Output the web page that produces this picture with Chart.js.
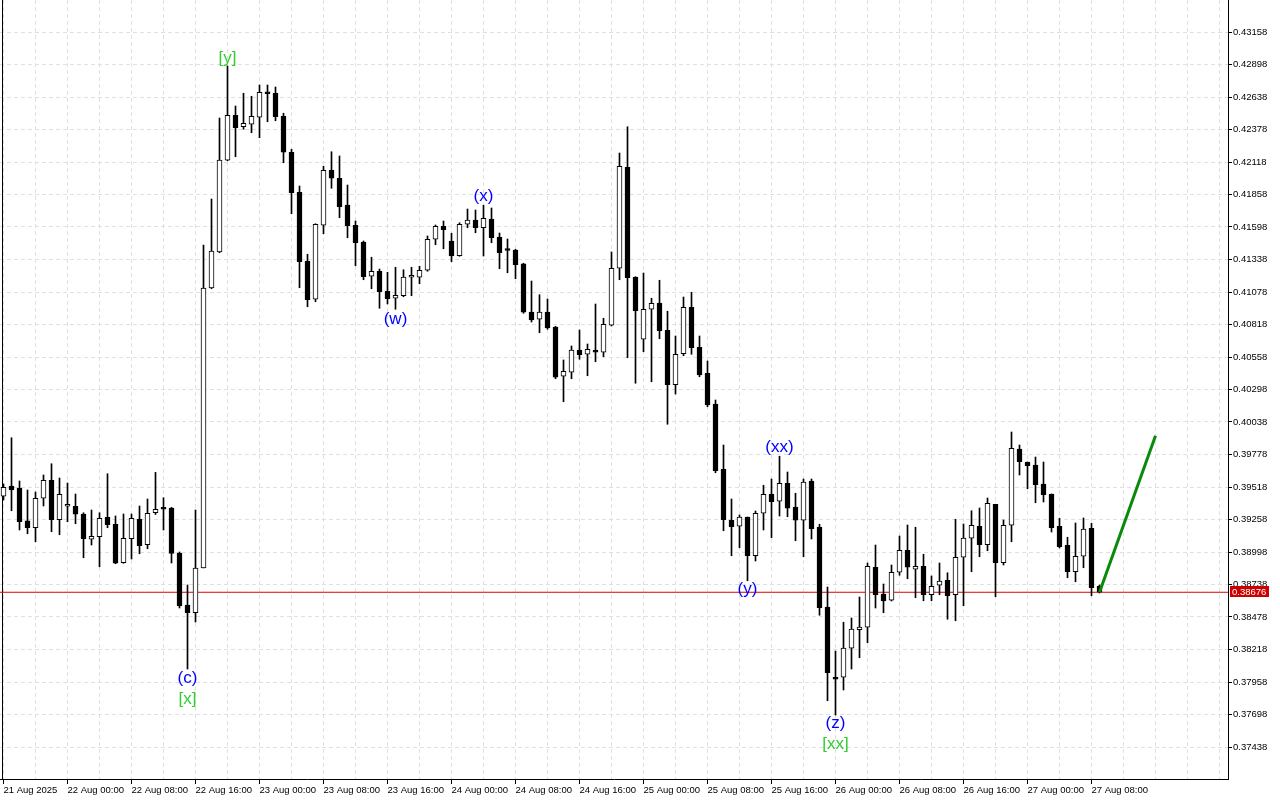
<!DOCTYPE html>
<html><head><meta charset="utf-8">
<script src="https://cdn.jsdelivr.net/npm/chart.js@4.4.1/dist/chart.umd.min.js"></script>
<style>html,body{margin:0;padding:0;background:#fff;overflow:hidden}#wrap{width:1280px;height:800px}</style>
</head><body><div id="wrap"><canvas id="c" width="1280" height="800"></canvas></div>
<script>
// H1 candles, 21 Aug 2025 16:00 .. 27 Aug 2025 09:00
const opens = [0.39444,0.39526,0.39510,0.39248,0.39192,0.39428,0.39572,0.39256,0.39364,0.39364,
0.39302,0.39100,0.39120,0.39276,0.39220,0.38912,0.39104,0.39262,0.39056,0.39312,
0.39342,0.39350,0.38990,0.38574,0.38512,0.38870,0.41110,0.41398,0.42132,0.42492,
0.42400,0.42420,0.42476,0.42676,0.42668,0.42484,0.42196,0.41876,0.41324,0.41020,
0.41612,0.42054,0.41988,0.41774,0.41612,0.41478,0.41204,0.41244,0.41084,0.41028,
0.41048,0.41196,0.41196,0.41252,0.41500,0.41604,0.41486,0.41368,0.41620,0.41654,
0.41592,0.41662,0.41518,0.41412,0.41414,0.41304,0.40918,0.40860,0.40918,0.40798,
0.40404,0.40436,0.40614,0.40580,0.40614,0.40596,0.40812,0.41268,0.42076,0.41198,
0.40700,0.40940,0.40990,0.40772,0.40336,0.40584,0.40956,0.40636,0.40428,0.40182,
0.39660,0.39252,0.39204,0.39278,0.38968,0.39308,0.39462,0.39404,0.39548,0.39358,
0.39252,0.39566,0.39198,0.38558,0.37982,0.37996,0.38228,0.38376,0.38396,0.38876,
0.38662,0.38612,0.38836,0.39012,0.38860,0.38884,0.38656,0.38732,0.38772,0.38656,
0.38956,0.39108,0.39204,0.39056,0.39380,0.38912,0.39212,0.39822,0.39718,0.39694,
0.39542,0.39462,0.39204,0.39052,0.38840,0.38964,0.39188,0.38726];
const highs = [0.39542,0.39912,0.39566,0.39494,0.39478,0.39614,0.39704,0.39590,0.39550,0.39462,
0.39312,0.39334,0.39312,0.39624,0.39286,0.39302,0.39302,0.39366,0.39422,0.39635,
0.39432,0.39355,0.38998,0.38734,0.39334,0.41454,0.41822,0.42470,0.42886,0.42566,
0.42668,0.42644,0.42734,0.42734,0.42718,0.42508,0.42220,0.41926,0.41380,0.41624,
0.42084,0.42200,0.42166,0.41934,0.41646,0.41486,0.41356,0.41262,0.41236,0.41276,
0.41256,0.41276,0.41284,0.41526,0.41614,0.41646,0.41548,0.41632,0.41742,0.41734,
0.41772,0.41750,0.41550,0.41502,0.41420,0.41308,0.41166,0.41056,0.41022,0.40804,
0.40534,0.40646,0.40774,0.40662,0.40982,0.40868,0.41398,0.42190,0.42400,0.41200,
0.41230,0.41028,0.41172,0.40924,0.40726,0.41038,0.41076,0.40726,0.40526,0.40214,
0.39854,0.39422,0.39294,0.39278,0.39326,0.39532,0.39582,0.39764,0.39638,0.39468,
0.39582,0.39582,0.39220,0.38718,0.38206,0.38436,0.38470,0.38638,0.38910,0.39054,
0.38742,0.38894,0.39126,0.39214,0.39196,0.38980,0.38806,0.38910,0.38832,0.39260,
0.39222,0.39328,0.39350,0.39430,0.39380,0.39254,0.39958,0.39854,0.39718,0.39758,
0.39718,0.39462,0.39268,0.39116,0.39230,0.39270,0.39228,0.38734];
const lows = [0.39414,0.39328,0.39174,0.39144,0.39080,0.39366,0.39160,0.39136,0.39240,0.39224,
0.38952,0.39054,0.38880,0.39192,0.38904,0.38908,0.38942,0.38984,0.39024,0.39298,
0.39174,0.38910,0.38550,0.38062,0.38438,0.38870,0.41104,0.41392,0.42128,0.42160,
0.42380,0.42352,0.42312,0.42440,0.42448,0.42112,0.41704,0.41112,0.40960,0.41000,
0.41544,0.41908,0.41672,0.41512,0.41288,0.41176,0.41104,0.40948,0.40982,0.40940,
0.41040,0.41048,0.41144,0.41244,0.41456,0.41424,0.41320,0.41364,0.41592,0.41552,
0.41366,0.41472,0.41264,0.41232,0.41184,0.40908,0.40838,0.40752,0.40780,0.40384,
0.40200,0.40384,0.40540,0.40408,0.40520,0.40560,0.40806,0.41176,0.40552,0.40348,
0.40600,0.40360,0.40704,0.40020,0.40262,0.40568,0.40580,0.40400,0.40160,0.39632,
0.39168,0.38968,0.39032,0.38768,0.38926,0.39174,0.39112,0.39286,0.39280,0.39088,
0.38960,0.39102,0.38492,0.37808,0.37694,0.37894,0.38062,0.38152,0.38272,0.38550,
0.38512,0.38606,0.38812,0.38784,0.38632,0.38608,0.38608,0.38656,0.38460,0.38448,
0.38568,0.38840,0.38960,0.39008,0.38640,0.38894,0.39080,0.39614,0.39504,0.39392,
0.39398,0.39158,0.39030,0.38792,0.38760,0.38872,0.38648,0.38670];
const closes = [0.39516,0.39494,0.39240,0.39192,0.39428,0.39572,0.39256,0.39460,0.39366,0.39300,
0.39104,0.39124,0.39268,0.39216,0.38908,0.39108,0.39268,0.39048,0.39308,0.39339,
0.39340,0.38986,0.38566,0.38512,0.38870,0.41110,0.41406,0.42134,0.42492,0.42392,
0.42428,0.42484,0.42676,0.42664,0.42480,0.42196,0.41872,0.41320,0.41016,0.41620,
0.42052,0.41988,0.41760,0.41608,0.41472,0.41200,0.41244,0.41080,0.41024,0.41052,
0.41198,0.41198,0.41252,0.41500,0.41604,0.41576,0.41366,0.41620,0.41654,0.41592,
0.41668,0.41512,0.41392,0.41410,0.41296,0.40916,0.40854,0.40918,0.40790,0.40396,
0.40444,0.40614,0.40576,0.40620,0.40596,0.40820,0.41268,0.42084,0.41192,0.40928,
0.40940,0.40988,0.40768,0.40336,0.40580,0.40956,0.40632,0.40414,0.40174,0.39648,
0.39256,0.39200,0.39278,0.38968,0.39308,0.39460,0.39400,0.39548,0.39348,0.39252,
0.39558,0.39184,0.38552,0.38032,0.37980,0.38230,0.38382,0.38398,0.38884,0.38656,
0.38606,0.38836,0.39012,0.38876,0.38884,0.38656,0.38724,0.38766,0.38648,0.38956,
0.39110,0.39212,0.39056,0.39388,0.38912,0.39212,0.39828,0.39720,0.39688,0.39536,
0.39456,0.39192,0.39040,0.38840,0.38964,0.39182,0.38712,0.38676];

const tickCandles = [0,8,16,24,32,40,48,56,64,72,80,88,96,104,112,120,128,136];
const tickLabels = ["21 Aug 2025","22 Aug 00:00","22 Aug 08:00","22 Aug 16:00","23 Aug 00:00",
"23 Aug 08:00","23 Aug 16:00","24 Aug 00:00","24 Aug 08:00","24 Aug 16:00","25 Aug 00:00",
"25 Aug 08:00","25 Aug 16:00","26 Aug 00:00","26 Aug 08:00","26 Aug 16:00","27 Aug 00:00","27 Aug 08:00"];
const yTicks = [0.43158,0.42898,0.42638,0.42378,0.42118,0.41858,0.41598,0.41338,0.41078,0.40818,
0.40558,0.40298,0.40038,0.39778,0.39518,0.39258,0.38998,0.38738,0.38478,0.38218,0.37958,0.37698,0.37438];
const bidPrice = 0.38676;
const forecastIdx = [137, 144];
const forecastPrice = [0.38676, 0.39928];
const waveText  = ["[y]","(c)","[x]","(w)","(x)","(xx)","(y)","(z)","[xx]"];
const waveIdx   = [28, 23, 23, 49, 60, 97, 93, 104, 104];
const wavePrice = [0.42950,0.37990,0.37822,0.40862,0.41846,0.39838,0.38702,0.37630,0.37462];

// view range
const X_MIN = -0.4375, X_MAX = 153.0625;
const Y_MIN = 0.37182, Y_MAX = 0.43414;
const gridIdx = [];
for (let v = 0; v <= 152; v += 4) gridIdx.push(v);

const FONT = "'Liberation Sans', Arial, sans-serif";
Chart.defaults.font.family = FONT;
Chart.defaults.font.size = 9.5;
Chart.defaults.color = '#000';

const candleIdx = opens.map((_, i) => i);

const overlay = {
  id: 'overlay',
  beforeDatasetsDraw(chart) {
    const {ctx, chartArea} = chart;
    ctx.save();
    ctx.strokeStyle = '#000';
    ctx.lineWidth = 1;
    ctx.beginPath();
    ctx.moveTo(chartArea.left + 2.5, chartArea.top);
    ctx.lineTo(chartArea.left + 2.5, chartArea.bottom);
    ctx.stroke();
    ctx.restore();
  },
  afterDatasetsDraw(chart) {
    const {ctx, scales} = chart;
    ctx.save();
    ctx.font = "17px " + FONT;
    ctx.textAlign = 'center';
    ctx.textBaseline = 'middle';
    waveText.forEach((t, k) => {
      ctx.fillStyle = t[0] === '[' ? '#33cc33' : '#0000ff';
      ctx.fillText(t, scales.x.getPixelForValue(waveIdx[k]), scales.y.getPixelForValue(wavePrice[k]));
    });
    ctx.restore();
  },
  afterDraw(chart) {
    const {ctx, scales, chartArea} = chart;
    const y = Math.round(scales.y.getPixelForValue(bidPrice));
    ctx.save();
    ctx.fillStyle = '#cc0000';
    ctx.fillRect(chartArea.right + 2, y - 6, 39, 11);
    ctx.fillStyle = '#fff';
    ctx.font = "9.5px " + FONT;
    ctx.textAlign = 'left';
    ctx.textBaseline = 'middle';
    ctx.fillText(bidPrice.toFixed(5), chartArea.right + 4, y);
    ctx.restore();
  }
};

new Chart(document.getElementById('c'), {
  type: 'bar',
  data: {
    datasets: [
      { type: 'line', label: 'bid', data: [{x: X_MIN, y: bidPrice}, {x: X_MAX, y: bidPrice}],
        borderColor: '#e00000', borderWidth: 1, pointRadius: 0, order: 10 },
      { label: 'wick', data: candleIdx.map(i => ({x: i, y: [lows[i], highs[i]]})),
        backgroundColor: '#000', barThickness: 1, grouped: false, order: 5 },
      { label: 'body', data: candleIdx.map(i => ({x: i, y: [opens[i], closes[i]]})),
        backgroundColor: c => closes[c.dataIndex] >= opens[c.dataIndex] ? '#ffffff' : '#000000',
        borderColor: '#000', borderWidth: 1, borderSkipped: false, barThickness: 5,
        minBarLength: 2, grouped: false, order: 4 },
      { type: 'line', label: 'forecast', data: forecastIdx.map((x, k) => ({x, y: forecastPrice[k]})),
        borderColor: '#0a8a0a', borderWidth: 3, pointRadius: 0, order: 1 }
    ]
  },
  options: {
    responsive: false, animation: false, devicePixelRatio: 1, events: [],
    layout: {padding: 0},
    plugins: {legend: {display: false}, tooltip: {enabled: false}},
    scales: {
      x: {
        type: 'linear', min: X_MIN, max: X_MAX, offset: false, position: 'bottom',
        afterBuildTicks: s => { s.ticks = gridIdx.map(v => ({value: v})); },
        afterFit: s => { s.height = 21; s.paddingLeft = 0; s.paddingRight = 0; },
        ticks: { autoSkip: false, maxRotation: 0, minRotation: 0, align: 'start', padding: 1,
          callback: v => { const k = tickCandles.indexOf(v); return k >= 0 ? tickLabels[k] : ''; } },
        grid: { offset: false, color: '#e0e0e0', lineWidth: 1, tickLength: 5, tickWidth: 1,
          tickColor: c => (c.tick && tickCandles.includes(c.tick.value)) ? '#000' : 'rgba(0,0,0,0)',
          tickBorderDash: [] },
        border: { display: true, color: '#000', width: 1, dash: [4, 3] }
      },
      y: {
        type: 'linear', position: 'right', min: Y_MIN, max: Y_MAX, beginAtZero: false,
        afterBuildTicks: s => { s.ticks = yTicks.map(v => ({value: v})); },
        afterFit: s => { s.width = 52; s.paddingTop = 0; s.paddingBottom = 0; },
        ticks: { autoSkip: false, padding: 1, callback: v => Number(v).toFixed(5) },
        grid: { color: '#e0e0e0', lineWidth: 1, tickLength: 4, tickWidth: 1, tickColor: '#000', tickBorderDash: [] },
        border: { display: true, color: '#000', width: 1, dash: [4, 3] }
      }
    }
  },
  plugins: [overlay]
});
</script>
</body></html>
